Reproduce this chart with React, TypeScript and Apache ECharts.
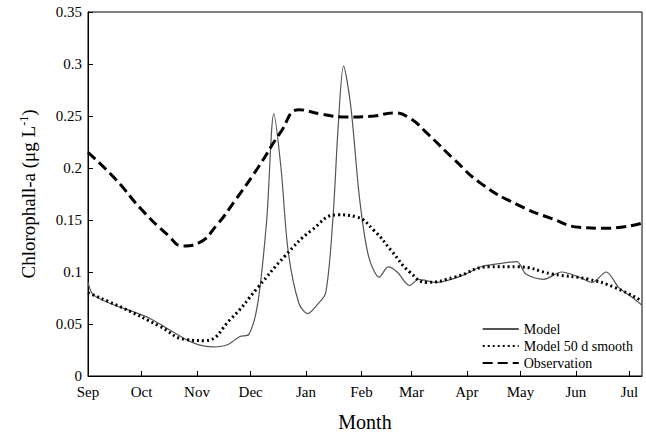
import { useEffect, useRef } from 'react';
import * as echarts from 'echarts';

// days since 1 Sep
const monthNames = ['Sep', 'Oct', 'Nov', 'Dec', 'Jan', 'Feb', 'Mar', 'Apr', 'May', 'Jun', 'Jul'];
const monthStarts = [0, 30, 61, 91, 122, 153, 181, 212, 242, 273, 303];
const totalDays = 310;

const observation = [
  [0, 0.215], [15, 0.19], [30, 0.16], [45, 0.135], [53, 0.125], [62, 0.128], [72, 0.145],
  [82, 0.168], [95, 0.2], [108, 0.235], [118, 0.256], [130, 0.252], [145, 0.249], [160, 0.25],
  [171, 0.253], [180, 0.248], [190, 0.233], [205, 0.208], [220, 0.185], [240, 0.165],
  [260, 0.151], [275, 0.143], [290, 0.142], [310, 0.147],
];
const smooth50 = [
  [0, 0.08], [20, 0.065], [40, 0.048], [55, 0.035], [65, 0.034], [80, 0.055], [95, 0.085],
  [110, 0.115], [125, 0.14], [140, 0.155], [150, 0.153], [160, 0.14], [170, 0.12], [180, 0.1],
  [190, 0.09], [205, 0.095], [225, 0.105], [240, 0.105], [260, 0.098], [280, 0.093],
  [295, 0.085], [310, 0.072],
];
const model = [
  [0, 0.09], [3, 0.078], [15, 0.068], [25, 0.062], [35, 0.055], [45, 0.045], [55, 0.035],
  [62, 0.03], [70, 0.028], [78, 0.03], [85, 0.038], [90, 0.04], [95, 0.07], [100, 0.15],
  [104, 0.252], [108, 0.2], [112, 0.12], [118, 0.07], [123, 0.06], [128, 0.068], [133, 0.08],
  [137, 0.15], [140, 0.24], [143, 0.298], [147, 0.26], [152, 0.17], [157, 0.115], [163, 0.095],
  [168, 0.105], [173, 0.1], [180, 0.087], [185, 0.093], [195, 0.09], [210, 0.097], [220, 0.105],
  [230, 0.108], [240, 0.11], [245, 0.098], [255, 0.093], [265, 0.1], [275, 0.095], [282, 0.09],
  [290, 0.1], [297, 0.085], [305, 0.075], [310, 0.068],
];

const font = 'Liberation Serif';

export default function App() {
  const ref = useRef<HTMLDivElement>(null);

  useEffect(() => {
    if (!ref.current) return;
    const chart = echarts.init(ref.current, null, { renderer: 'svg' });
    const days = Array.from({ length: totalDays + 1 }, (_, i) => String(i));
    const isStart = (i: number) => monthStarts.includes(i);

    chart.setOption({
      animation: false,
      textStyle: { fontFamily: font },
      grid: { left: 88, right: 4, top: 12, bottom: 57, show: true, borderColor: '#000', borderWidth: 1 },
      legend: {
        right: 8, bottom: 62, orient: 'vertical', itemGap: 3, itemWidth: 36, itemHeight: 10,
        itemStyle: { opacity: 0 },
        textStyle: { fontFamily: font, fontSize: 14, color: '#000' },
        data: ['Model', 'Model 50 d smooth', 'Observation'],
      },
      xAxis: {
        type: 'category', data: days, boundaryGap: false,
        name: 'Month', nameLocation: 'middle', nameGap: 36,
        nameTextStyle: { fontSize: 20, color: '#000', fontFamily: font },
        axisLine: { lineStyle: { color: '#000' } },
        axisTick: { inside: true, length: 5, interval: (i: number) => isStart(i), lineStyle: { color: '#000' } },
        axisLabel: {
          interval: (i: number) => isStart(i), color: '#000', fontSize: 15, margin: 8, fontFamily: font,
          formatter: (_v: string, i: number) => monthNames[monthStarts.indexOf(i)] ?? '',
        },
        splitLine: { show: false },
      },
      yAxis: {
        type: 'value', min: 0, max: 0.35, interval: 0.05,
        name: '{a|Chlorophall-a (μg L}{s|-1}{a|)}', nameLocation: 'middle', nameGap: 50,
        nameTextStyle: {
          color: '#000',
          rich: {
            a: { fontSize: 19, fontFamily: font, color: '#000' },
            s: { fontSize: 12, fontFamily: font, color: '#000', verticalAlign: 'top', padding: [0, 0, 8, 0] },
          },
        },
        axisLine: { show: true, lineStyle: { color: '#000' } },
        axisTick: { show: true, inside: true, length: 5, lineStyle: { color: '#000' } },
        axisLabel: { color: '#000', fontSize: 15, fontFamily: font, margin: 6, formatter: (v: number) => String(+v.toFixed(2)) },
        splitLine: { show: false },
      },
      series: [
        {
          name: 'Model', type: 'line', data: model, smooth: 0.3, showSymbol: false, symbol: 'none',
          itemStyle: { color: '#555' }, lineStyle: { color: '#555', width: 1.2 },
        },
        {
          name: 'Model 50 d smooth', type: 'line', data: smooth50, smooth: true, showSymbol: false, symbol: 'none',
          itemStyle: { color: '#000' }, lineStyle: { color: '#000', width: 3, type: [2, 3] },
        },
        {
          name: 'Observation', type: 'line', data: observation, smooth: true, showSymbol: false, symbol: 'none',
          itemStyle: { color: '#000' }, lineStyle: { color: '#000', width: 3, type: [10, 5] },
        },
      ],
    });
    return () => chart.dispose();
  }, []);

  return <div ref={ref} style={{ position: 'absolute', left: 0, top: 0, width: 646, height: 437 }} />;
}
